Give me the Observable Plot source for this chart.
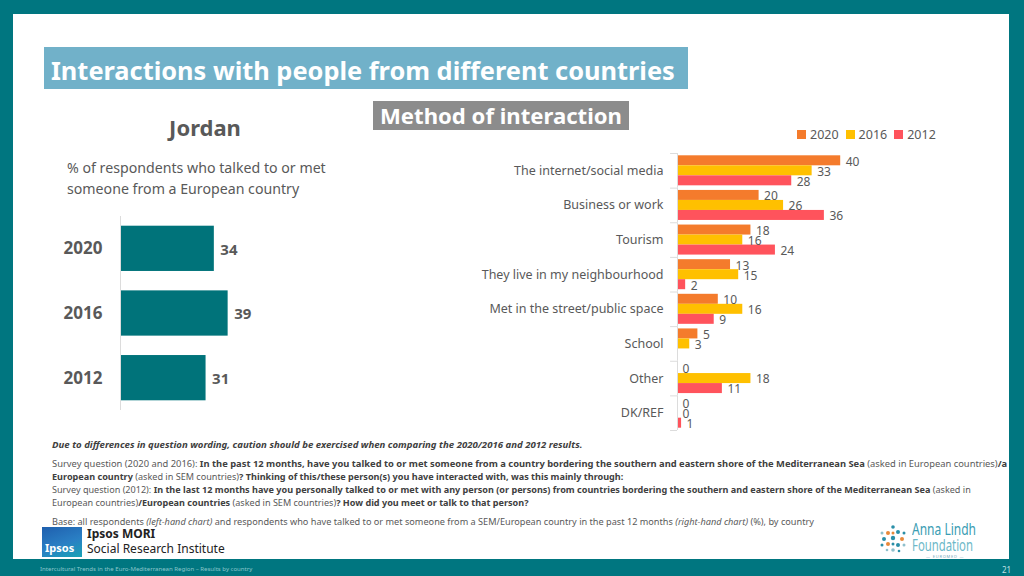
<!DOCTYPE html>
<html><head><meta charset="utf-8">
<script src="https://cdn.jsdelivr.net/npm/d3@7"></script>
<script src="https://cdn.jsdelivr.net/npm/@observablehq/plot@0.6"></script>
<style>
body{margin:0;width:1024px;height:576px;position:relative;overflow:hidden;background:#007680;font-family:"Noto Sans",sans-serif;color:#595959}
.abs{position:absolute}
#panel{left:13px;top:14px;width:996px;height:545px;background:#fff}
#title{left:44px;top:47px;width:644px;height:42px;background:#71b1c9;color:#fff;font-weight:bold;font-size:25px;line-height:42px;padding:2px 0 0 7px;box-sizing:border-box;white-space:nowrap}
#method{left:373px;top:101px;width:256px;height:29px;background:#8c8c8c;color:#fff;font-weight:bold;font-size:21px;line-height:29px;text-align:center;white-space:nowrap}
#country{left:140px;top:112px;width:130px;text-align:center;font-weight:bold;font-size:22px;color:#595959}
#sub{left:67px;top:157px;font-size:15px;line-height:20px;color:#595959;white-space:nowrap}
#left{left:40px;top:206px}
#right{left:460px;top:145px}
#legend{left:797px;top:118px}
#legend span{margin-right:7px !important}
#legend svg{margin-right:4px !important}
#notes{left:52px;top:438px;font-size:10px;line-height:13px;color:#595959;white-space:nowrap}
#notes b{color:#404040}
.ipsosbox{left:42px;top:527px;width:40px;height:30px;background:linear-gradient(160deg,#1f5fae 0%,#2a7fc4 55%,#19a3b5 100%);color:#fff;font-size:11px;font-weight:bold}
#ipsosname{left:87px;top:526px;font-size:12px;line-height:15px;color:#222;white-space:nowrap}
#foot{left:40px;top:564px;font-size:7px;color:#8cc7cc;white-space:nowrap}
#page{left:1002px;top:564px;font-size:8px;color:#bfe0e2}
#alf{left:876px;top:519px;width:104px;height:40px}
#alf .t1{position:absolute;left:36px;top:3px;font-size:16px;line-height:15px;height:15px;color:#3a9db3;white-space:nowrap}
#alf .t2{position:absolute;left:36px;top:19px;font-size:16px;line-height:15px;height:15px;color:#6cb8c8;white-space:nowrap}
#alf .t3{position:absolute;left:50px;top:36px;font-size:4px;line-height:4px;color:#7ab;letter-spacing:0.8px;white-space:nowrap}
.fitx{display:inline-block;transform-origin:0 50%}
</style></head><body>
<div id="panel" class="abs"></div>
<div id="title" class="abs"><span class="fit" data-w="624">Interactions with people from different countries</span></div>
<div id="method" class="abs"><span class="fit" data-w="242">Method of interaction</span></div>
<div id="country" class="abs">Jordan</div>
<div id="sub" class="abs"><span class="fit" data-w="259" data-group="sub">% of respondents who talked to or met</span><br><span class="fitg" data-group="sub">someone from a European country</span></div>
<div id="left" class="abs"></div>
<div id="legend" class="abs"></div>
<div id="right" class="abs"></div>
<div id="notes" class="abs">
<div style="margin-bottom:6px"><span class="fit" data-w="531"><b><i>Due to differences in question wording, caution should be exercised when comparing the 2020/2016 and 2012 results.</i></b></span></div>
<div><span class="fit" data-w="956">Survey question (2020 and 2016): <b>In the past 12 months, have you talked to or met someone from a country bordering the southern and eastern shore of the Mediterranean Sea</b> (asked in European countries)<b>/a</b></span></div>
<div><span class="fit" data-w="572"><b>European country</b> (asked in SEM countries)<b>? Thinking of this/these person(s) you have interacted with, was this mainly through:</b></span></div>
<div><span class="fit" data-w="920">Survey question (2012): <b>In the last 12 months have you personally talked to or met with any person (or persons) from countries bordering the southern and eastern shore of the Mediterranean Sea</b> (asked in</span></div>
<div><span class="fit" data-w="477">European countries)<b>/European countries</b> (asked in SEM countries)<b>? How did you meet or talk to that person?</b></span></div>
<div style="margin-top:6px"><span class="fit" data-w="763">Base: all respondents <i>(left-hand chart)</i> and respondents who have talked to or met someone from a SEM/European country in the past 12 months <i>(right-hand chart)</i> (%), by country</span></div>
</div>
<div class="abs ipsosbox"><span style="position:absolute;left:3px;bottom:2px">Ipsos</span></div>
<div id="ipsosname" class="abs"><b>Ipsos MORI</b><br>Social Research Institute</div>
<div id="alf" class="abs">
<svg width="34" height="36" style="position:absolute;left:0;top:0">
<g transform="translate(2,4)">
<circle cx="15" cy="15" r="2.2" fill="#2a8fa8"/><circle cx="10" cy="10" r="2" fill="#e8893a"/><circle cx="20" cy="9" r="2" fill="#2a8fa8"/>
<circle cx="6" cy="16" r="2" fill="#2a8fa8"/><circle cx="24" cy="16" r="2" fill="#e8893a"/><circle cx="10" cy="21" r="2" fill="#e8893a"/>
<circle cx="20" cy="22" r="2" fill="#2a8fa8"/><circle cx="15" cy="4" r="1.8" fill="#2a8fa8"/><circle cx="15" cy="27" r="1.8" fill="#8fc0cc"/>
<circle cx="4" cy="10" r="1.5" fill="#8fc0cc"/><circle cx="26" cy="10" r="1.5" fill="#2a8fa8"/><circle cx="4" cy="22" r="1.5" fill="#2a8fa8"/><circle cx="26" cy="22" r="1.5" fill="#8fc0cc"/>
<circle cx="15" cy="10" r="1.5" fill="#e8893a"/><circle cx="15" cy="21" r="1.5" fill="#2a8fa8"/><circle cx="9" cy="27" r="1.3" fill="#8fc0cc"/><circle cx="21" cy="28" r="1.3" fill="#2a8fa8"/>
</g>
</svg>
<div class="t1"><span class="fitx" data-w="64">Anna Lindh</span></div>
<div class="t2"><span class="fitx" data-w="61">Foundation</span></div>
<div class="t3">— EUROMED —</div>
</div>
<div id="foot" class="abs"><span class="fit" data-w="213">Intercultural Trends in the Euro-Mediterranean Region – Results by country</span></div>
<div id="page" class="abs">21</div>
<script>
const leftYears = ["2020","2016","2012"];
const leftValues = [34,39,31];

const methods = ["The internet/social media","Business or work","Tourism","They live in my neighbourhood","Met in the street/public space","School","Other","DK/REF"];
const years = ["2020","2016","2012"];
const v2020 = [40,20,18,13,10,5,0,0];
const v2016 = [33,26,16,15,16,3,18,0];
const v2012 = [28,36,24,2,9,null,11,1];
const colors = ["#f47b2c","#ffc000","#ff535c"];

const leftData = leftYears.map((y,i)=>({year:y, value:leftValues[i]}));
const leftPlot = Plot.plot({
  width:300, height:214, marginLeft:80, marginRight:82, marginTop:10, marginBottom:10,
  style:{fontFamily:"Noto Sans", color:"#595959", background:"transparent"},
  x:{domain:[0,50], axis:null},
  y:{domain:leftYears, paddingInner:0.3, paddingOuter:0.15, round:false, axis:null},
  marks:[
    Plot.axisY({tickSize:0, tickPadding:18, fontSize:17, fontWeight:"bold", label:null, fill:"#595959"}),
    Plot.barX(leftData,{x:"value", y:"year", fill:"#00737a"}),
    Plot.ruleX([0],{stroke:"#dcdcdc"}),
    Plot.text(leftData,{x:"value", y:"year", text:d=>String(d.value), textAnchor:"start", dx:6, dy:1, fontSize:15, fontWeight:"bold", fill:"#595959"})
  ]
});
document.getElementById("left").appendChild(leftPlot);

const arrs = [v2020,v2016,v2012];
const rows = [];
methods.forEach((m,i)=>arrs.forEach((a,j)=>{ if(a[i]!=null) rows.push({method:m, year:years[j], value:a[i]}); }));

const rightPlot = Plot.plot({
  width:440, height:293, marginLeft:217, marginRight:19, marginTop:8, marginBottom:8,
  style:{fontFamily:"Noto Sans", color:"#595959", background:"transparent"},
  x:{domain:[0,50], axis:null},
  y:{domain:years, paddingInner:0, paddingOuter:0.23, round:false, axis:null},
  fy:{domain:methods, paddingInner:0, paddingOuter:0, round:false, axis:null, label:null},
  color:{domain:years, range:colors},
  marks:[
    Plot.axisFy({anchor:"left", tickSize:0, tickPadding:14, label:null, fontSize:12.5, fill:"#595959"}),
    Plot.barX(rows,{x:"value", y:"year", fy:"method", fill:"year"}),
    Plot.ruleX([0],{stroke:"#dcdcdc"}),
    Plot.ruleY(methods,{fy:d=>d, y:()=>"2020", x1:-1.7, x2:0, dy:-7.3, stroke:"#dcdcdc"}),
    Plot.ruleY(methods.slice(-1),{fy:d=>d, y:()=>"2012", x1:-1.7, x2:0, dy:7.3, stroke:"#dcdcdc"}),
    Plot.text(rows,{x:"value", y:"year", fy:"method", text:d=>String(d.value), textAnchor:"start", dx:5, dy:1, fontSize:12, fill:"#595959"})
  ]
});
document.getElementById("right").appendChild(rightPlot);

const leg = Plot.legend({color:{domain:years, range:colors}, legend:"swatches", swatchSize:9, style:{fontFamily:"Noto Sans", fontSize:"12.5px", color:"#595959"}});
document.getElementById("legend").appendChild(leg);

// fit text widths to the reference layout
const groups = {};
document.querySelectorAll(".fit").forEach(el=>{
  const fs = parseFloat(getComputedStyle(el).fontSize);
  const w = el.getBoundingClientRect().width;
  const nfs = fs*(+el.dataset.w)/w;
  el.style.fontSize = nfs+"px";
  if (el.dataset.group) groups[el.dataset.group] = nfs;
});
document.querySelectorAll(".fitg").forEach(el=>{ el.style.fontSize = groups[el.dataset.group]+"px"; });
document.querySelectorAll(".fitx").forEach(el=>{
  const w = el.getBoundingClientRect().width;
  el.style.transform = "scaleX(" + ((+el.dataset.w)/w) + ")";
});
</script>
</body></html>
